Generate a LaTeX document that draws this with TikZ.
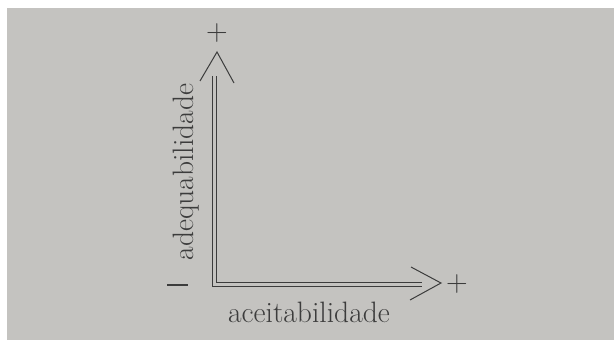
\documentclass[tikz,border=0pt]{standalone}
\usepackage{tikz}
\definecolor{paper}{RGB}{196,195,192}
\definecolor{ink}{RGB}{60,60,60}
\begin{document}
\begin{tikzpicture}[x=1pt,y=-1pt,
  axis/.style={draw=ink, line width=1pt, double=paper, double distance=3pt},
  head/.style={draw=ink, line width=1pt, line join=miter},
  lbl/.style={text=ink, inner sep=0pt, font=\fontsize{29.5}{32}\selectfont},
  sgn/.style={text=ink, inner sep=0pt, font=\fontsize{30}{32}\selectfont}]
\useasboundingbox (0,0) rectangle (614,340);
\fill[white] (0,0) rectangle (614,340);
\fill[paper] (7,8) rectangle (614,340);

\coordinate (origin) at (214.5,284);
\coordinate (ytop) at (214.5,76);
\coordinate (xend) at (422,284);
\coordinate (ytip) at (217,52);
\coordinate (ywl) at (200,81);
\coordinate (ywr) at (234,83);
\coordinate (xtip) at (441,283);
\coordinate (xwt) at (411,267);
\coordinate (xwb) at (410,300);

\draw[axis] (ytop) -- (origin) -- (xend);
\draw[head] (ywl) -- (ytip) -- (ywr);
\draw[head] (xwt) -- (xtip) -- (xwb);

\node[sgn] (yplus) at (217,33) {+};
\node[sgn] (xplus) at (457,284) {+};
% minus sign at the origin
\coordinate (mleft) at (167,285);
\coordinate (mright) at (188,285);
\draw[ink, line width=1.6pt] (mleft) -- (mright);

\node[lbl, anchor=base] (xlabel) at (309,322) {aceitabilidade};
\node[lbl, anchor=base, rotate=90] (ylabel) at (193,172) {adequabilidade};
\end{tikzpicture}
\end{document}
